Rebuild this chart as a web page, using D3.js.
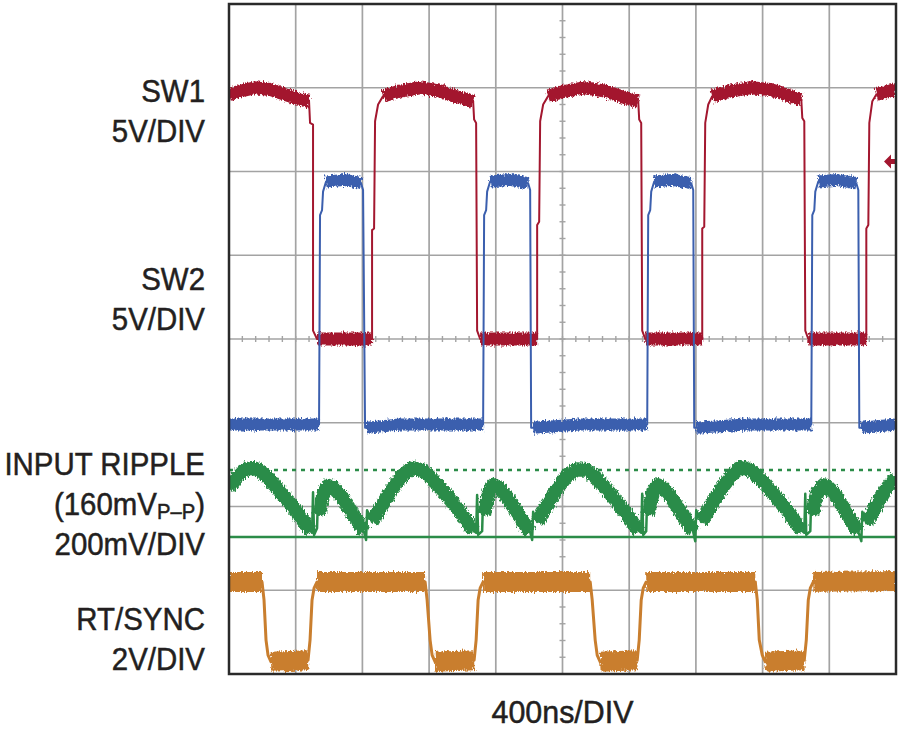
<!DOCTYPE html>
<html>
<head>
<meta charset="utf-8">
<script src="https://cdnjs.cloudflare.com/ajax/libs/d3/7.8.5/d3.min.js"></script>
<style>
  body { margin: 0; background: #fff; }
  text { font-family: "Liberation Sans", Arial, sans-serif; fill: #231f20; stroke: #231f20; stroke-width: 0.5px; }
</style>
</head>
<body>
<div id="chart"></div>
<script>
// screen: 10 divisions of 400ns across, 8 divisions up/down
var timeGrid = [0, 400, 800, 1200, 1600, 2000, 2400, 2800, 3200, 3600, 4000];
var divGrid = [-4, -3, -2, -1, 0, 1, 2, 3, 4];

// samples: [time ns, value, 1 = settled (noisy band) / 0 = edge]
var sw1 = [
  [0, 14.6, 1], [66, 14.8, 1], [156, 15.0, 1], [246, 14.9, 1], [336, 14.6, 1], [426, 14.3, 1], [480, 14.2, 1],
  [486, 12.9, 0], [504, 12.8, 0], [504, 0.5, 0], [528, 0, 1], [858, 0, 1],
  [858, 6.5, 0], [870, 6.6, 0], [876, 13.0, 0], [894, 14.0, 0], [924, 14.5, 1], [1026, 14.8, 1], [1146, 15.0, 1],
  [1266, 14.8, 1], [1356, 14.5, 1], [1464, 14.2, 1], [1470, 13.1, 0], [1482, 12.9, 0], [1488, 0.5, 0], [1506, 0, 1],
  [1848, 0, 1], [1848, 6.8, 0], [1860, 7.0, 0], [1866, 13.0, 0], [1884, 14.0, 0], [1914, 14.5, 1], [2016, 14.8, 1],
  [2136, 15.0, 1], [2256, 14.8, 1], [2346, 14.5, 1], [2454, 14.2, 1], [2460, 13.1, 0], [2472, 12.9, 0], [2478, 0.5, 0],
  [2496, 0, 1], [2838, 0, 1], [2838, 6.6, 0], [2850, 6.7, 0], [2856, 12.9, 0], [2874, 14.0, 0], [2898, 14.5, 1],
  [3006, 14.8, 1], [3126, 15.0, 1], [3246, 14.9, 1], [3336, 14.6, 1], [3432, 14.3, 1], [3438, 13.2, 0], [3450, 13.0, 0],
  [3456, 0.5, 0], [3474, 0, 1], [3822, 0, 1], [3822, 6.6, 0], [3834, 6.8, 0], [3840, 12.9, 0], [3858, 14.2, 0],
  [3882, 14.6, 1], [4000, 14.9, 1]
];

var sw2 = [
  [0, -0.1, 1], [270, -0.1, 1], [540, -0.1, 1], [546, 12.4, 0], [558, 12.7, 0], [564, 13.8, 0], [582, 14.4, 1],
  [696, 14.5, 1], [792, 14.3, 1], [804, 13.9, 0], [816, -0.3, 0], [828, -0.3, 1], [1026, -0.1, 1], [1524, -0.1, 1],
  [1530, 12.4, 0], [1542, 12.7, 0], [1548, 13.8, 0], [1566, 14.4, 1], [1686, 14.5, 1], [1794, 14.3, 1], [1806, 13.9, 0],
  [1812, -0.3, 0], [1824, -0.3, 1], [2100, -0.1, 1], [2508, -0.1, 1], [2514, 12.4, 0], [2526, 12.7, 0], [2532, 13.8, 0],
  [2550, 14.4, 1], [2658, 14.5, 1], [2772, 14.3, 1], [2784, 13.9, 0], [2790, -0.3, 0], [2802, -0.3, 1], [3100, -0.1, 1],
  [3492, -0.1, 1], [3498, 12.4, 0], [3510, 12.7, 0], [3516, 13.8, 0], [3534, 14.4, 1], [3642, 14.5, 1], [3762, 14.3, 1],
  [3774, 13.9, 0], [3780, -0.3, 0], [3792, -0.3, 1], [4000, -0.1, 1]
];

// input ripple in mV above the lower reference line (160mV P-P)
var ripple = [
  [0, 117, 1], [48, 143, 1], [90, 160, 1], [132, 165, 1], [180, 160, 1], [240, 139, 1], [330, 98, 1], [414, 57, 1],
  [462, 29, 1], [492, 14, 1], [498, 10, 0], [504, 107, 0], [510, 5, 0], [528, 21, 0], [534, 100, 0], [540, 53, 1],
  [552, 81, 1], [570, 107, 1], [594, 122, 1], [624, 119, 1], [672, 98, 1], [732, 62, 1], [786, 29, 1], [810, 12, 1],
  [822, -7, 0], [828, 64, 0], [858, 36, 1],
  [918, 76, 1], [978, 115, 1], [1038, 146, 1], [1098, 165, 1], [1158, 160, 1], [1218, 139, 1], [1308, 98, 1],
  [1392, 57, 1], [1440, 29, 1], [1470, 14, 1], [1482, 10, 0], [1488, 100, 0], [1494, 5, 0], [1518, 14, 0],
  [1524, 96, 0], [1530, 53, 1], [1542, 81, 1], [1560, 107, 1], [1584, 124, 1], [1614, 119, 1], [1662, 98, 1],
  [1722, 62, 1], [1776, 29, 1], [1806, 12, 1], [1818, -7, 0], [1824, 60, 0], [1848, 36, 1],
  [1908, 76, 1], [1968, 115, 1], [2028, 146, 1], [2088, 162, 1], [2148, 160, 1], [2208, 139, 1], [2298, 98, 1],
  [2382, 57, 1], [2430, 29, 1], [2460, 14, 1], [2472, 10, 0], [2478, 103, 0], [2484, 5, 0], [2502, 14, 0],
  [2508, 96, 0], [2514, 53, 1], [2526, 81, 1], [2544, 107, 1], [2568, 124, 1], [2598, 119, 1], [2646, 98, 1],
  [2706, 62, 1], [2760, 29, 1], [2784, 12, 1], [2796, -10, 0], [2802, 64, 0], [2832, 36, 1],
  [2892, 76, 1], [2952, 115, 1], [3012, 146, 1], [3066, 167, 1], [3126, 160, 1], [3186, 139, 1], [3276, 98, 1],
  [3360, 57, 1], [3408, 29, 1], [3438, 14, 1], [3450, 10, 0], [3456, 103, 0], [3462, 5, 0], [3486, 14, 0],
  [3492, 98, 0], [3498, 53, 1], [3510, 81, 1], [3528, 107, 1], [3564, 124, 1], [3594, 119, 1], [3642, 98, 1],
  [3696, 62, 1], [3744, 29, 1], [3774, 12, 1], [3792, -10, 0], [3798, 60, 0], [3822, 33, 1],
  [3882, 76, 1], [3942, 115, 1], [4000, 143, 1]
];
var rippleRefs = [0, 160];

var rtsync = [
  [0, 2.0, 1], [198, 2.0, 1], [210, 1.57, 0], [222, 0.61, 0], [234, 0.25, 0], [252, 0.09, 1], [474, 0.13, 1], [486, 0.61, 0],
  [498, 1.57, 0], [510, 1.85, 0], [528, 2.0, 1], [1176, 2.0, 1], [1188, 1.57, 0], [1206, 0.61, 0], [1218, 0.25, 0],
  [1236, 0.09, 1], [1470, 0.13, 1], [1482, 0.61, 0], [1494, 1.57, 0], [1506, 1.85, 0], [1524, 2.0, 1], [2166, 2.0, 1],
  [2178, 1.57, 0], [2196, 0.61, 0], [2208, 0.25, 0], [2226, 0.09, 1], [2448, 0.13, 1], [2460, 0.61, 0], [2472, 1.57, 0],
  [2484, 1.85, 0], [2502, 2.0, 1], [3156, 2.0, 1], [3168, 1.57, 0], [3180, 0.61, 0], [3198, 0.25, 0], [3216, 0.09, 1],
  [3450, 0.13, 1], [3462, 0.61, 0], [3474, 1.57, 0], [3486, 1.85, 0], [3504, 2.0, 1], [4000, 2.02, 1]
];

var triggerLevel = 10.6; // SW1 trigger marker, volts

var channelLabels = [
  ["SW1", "5V/DIV"],
  ["SW2", "5V/DIV"],
  ["INPUT RIPPLE", "(160mV_{P\u2013P})", "200mV/DIV"],
  ["RT/SYNC", "2V/DIV"]
];
var timeLabel = "400ns/DIV";

var W = 900, H = 731;
var x = d3.scaleLinear().domain([0, 4000]).range([229, 896]);
var y = d3.scaleLinear().domain([-4, 4]).range([674, 4]);

var svg = d3.select("#chart").append("svg")
    .attr("width", W)
    .attr("height", H);

var defs = svg.append("defs");
defs.append("clipPath").attr("id", "plotClip")
  .append("rect")
    .attr("x", x(0)).attr("y", y(4))
    .attr("width", x(4000) - x(0)).attr("height", y(-4) - y(4));

// jagged edge for the noisy settled levels
var noise = defs.append("filter").attr("id", "noise")
    .attr("filterUnits", "userSpaceOnUse")
    .attr("x", 0).attr("y", 0).attr("width", W).attr("height", H);
noise.append("feTurbulence")
    .attr("type", "fractalNoise")
    .attr("baseFrequency", "0.9 0.3")
    .attr("numOctaves", 2)
    .attr("seed", 4)
    .attr("result", "n");
noise.append("feDisplacementMap")
    .attr("in", "SourceGraphic").attr("in2", "n")
    .attr("scale", 6)
    .attr("xChannelSelector", "R").attr("yChannelSelector", "G");

// grid
var grid = svg.append("g").attr("class", "grid");
grid.selectAll(".vline")
    .data(timeGrid.slice(1, -1))
    .enter().append("line")
    .attr("x1", function (d) { return x(d); })
    .attr("x2", function (d) { return x(d); })
    .attr("y1", y(4)).attr("y2", y(-4))
    .style("stroke", "#a3a3a3").style("stroke-width", 1.7);
grid.selectAll(".hline")
    .data(divGrid.slice(1, -1))
    .enter().append("line")
    .attr("y1", function (d) { return y(d); })
    .attr("y2", function (d) { return y(d); })
    .attr("x1", x(0)).attr("x2", x(4000))
    .style("stroke", "#a3a3a3").style("stroke-width", 1.7);

// minor ticks on the centre cross, 5 per division
grid.selectAll(".xtick")
    .data(d3.range(0, 4001, 80))
    .enter().append("line")
    .attr("x1", function (d) { return x(d); })
    .attr("x2", function (d) { return x(d); })
    .attr("y1", y(0) - 3).attr("y2", y(0) + 3)
    .style("stroke", "#a3a3a3").style("stroke-width", 1.4);
grid.selectAll(".ytick")
    .data(d3.range(-4, 4.001, 0.2))
    .enter().append("line")
    .attr("y1", function (d) { return y(d); })
    .attr("y2", function (d) { return y(d); })
    .attr("x1", x(2000) - 3).attr("x2", x(2000) + 3)
    .style("stroke", "#a3a3a3").style("stroke-width", 1.4);

var plot = svg.append("g").attr("clip-path", "url(#plotClip)");

var channels = [
  { data: sw1, ground: 0, perDiv: 5, color: "#a3172f", edge: 2, band: 13 },
  { data: sw2, ground: -1, perDiv: 5, color: "#3b5fae", edge: 2, band: 12 },
  { data: ripple, ground: -2.364, perDiv: 200, color: "#2b8c48", edge: 2.5, band: 14 },
  { data: rtsync, ground: -3.9, perDiv: 2, color: "#c97e2e", edge: 3, band: 20 }
];

// ripple reference lines (dashed = 160mV, solid = 0)
var rip = channels[2];
plot.selectAll(".ref")
    .data(rippleRefs)
    .enter().append("line")
    .attr("x1", x(0)).attr("x2", x(4000))
    .attr("y1", function (d) { return y(rip.ground + d / rip.perDiv); })
    .attr("y2", function (d) { return y(rip.ground + d / rip.perDiv); })
    .style("stroke", rip.color)
    .style("stroke-width", 2.5)
    .style("stroke-dasharray", function (d) { return d > 0 ? "4,5" : null; });

channels.forEach(function (ch) {
    var line = d3.line()
        .x(function (d) { return x(d[0]); })
        .y(function (d) { return y(ch.ground + d[1] / ch.perDiv); });
    var band = d3.line()
        .defined(function (d) { return d[2] === 1; })
        .x(function (d) { return x(d[0]); })
        .y(function (d) { return y(ch.ground + d[1] / ch.perDiv); });

    plot.append("path")
        .attr("d", line(ch.data))
        .style("fill", "none")
        .style("stroke", ch.color)
        .style("stroke-width", ch.edge)
        .style("stroke-linejoin", "round");
    plot.append("path")
        .attr("d", band(ch.data))
        .attr("filter", "url(#noise)")
        .style("fill", "none")
        .style("stroke", ch.color)
        .style("stroke-width", ch.band)
        .style("stroke-linejoin", "round");
});

// trigger level arrow at the right edge
var ty = y(channels[0].ground + triggerLevel / channels[0].perDiv);
svg.append("path")
    .attr("d", "M" + (x(4000) - 12) + "," + ty + "l7,-7v4.5h4v5h-4v4.5z")
    .style("fill", channels[0].color);

// frame
svg.append("rect")
    .attr("x", x(0)).attr("y", y(4))
    .attr("width", x(4000) - x(0)).attr("height", y(-4) - y(4))
    .style("fill", "none")
    .style("stroke", "#2a2a2a")
    .style("stroke-width", 2.5);

// channel labels, condensed type
var labelTop = [y(2.833), y(0.585), y(-1.624), y(-3.475)];
channelLabels.forEach(function (lines, i) {
    lines.forEach(function (str, j) {
        var t = svg.append("text")
            .attr("transform", "translate(205," + (labelTop[i] + j * 40) + ") scale(0.92,1)")
            .attr("text-anchor", "end")
            .style("font-size", "32px");
        var parts = str.split(/_\{|\}/);
        parts.forEach(function (p, k) {
            if (!p) return;
            var sub = k % 2 === 1;
            t.append("tspan")
                .attr("dy", sub ? 4 : (k > 0 ? -4 : 0))
                .style("font-size", sub ? "22px" : null)
                .text(p);
        });
    });
});

svg.append("text")
    .attr("transform", "translate(" + x(2000) + ",723) scale(0.95,1)")
    .attr("text-anchor", "middle")
    .style("font-size", "32px")
    .text(timeLabel);
</script>
</body>
</html>
